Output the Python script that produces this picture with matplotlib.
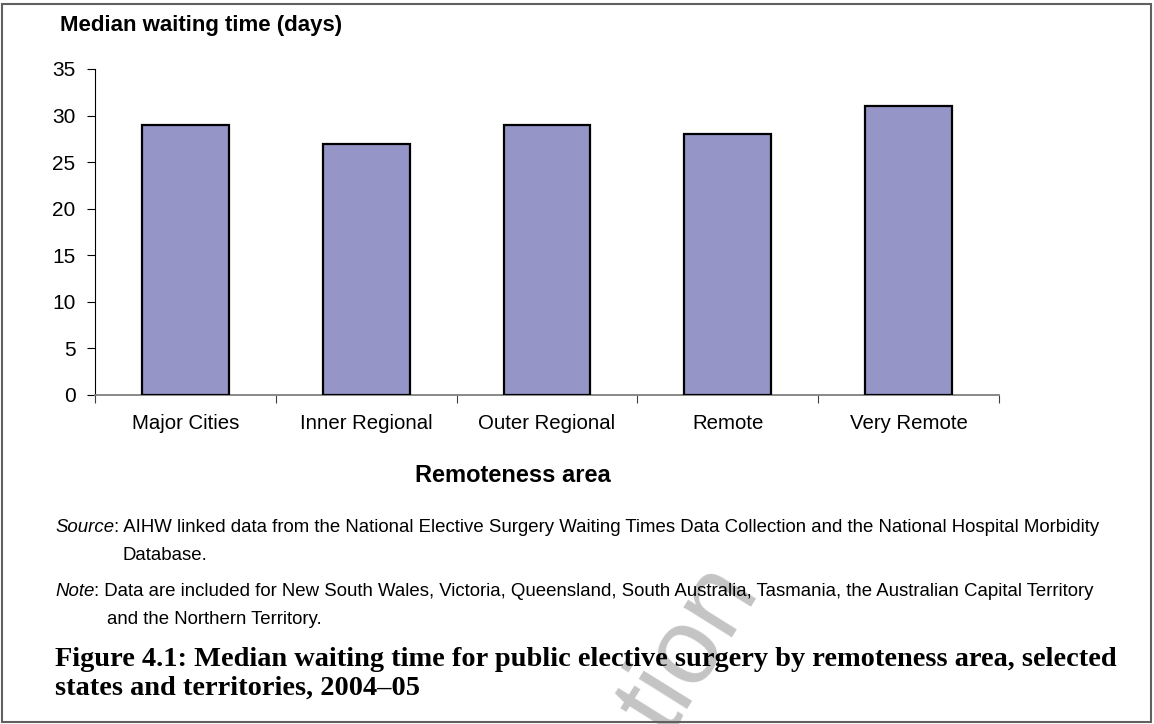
import matplotlib
matplotlib.use("Agg")
import matplotlib.pyplot as plt
from matplotlib.patches import Rectangle

# data
areas = ["Major Cities", "Inner Regional", "Outer Regional", "Remote", "Very Remote"]
median_days = [29, 27, 29, 28, 31]
yticks = [0, 5, 10, 15, 20, 25, 30, 35]

plt.rcParams["font.family"] = ["Liberation Sans", "DejaVu Sans"]

W, H = 1154, 724
fig = plt.figure(figsize=(W / 100, H / 100), dpi=100)
ax = fig.add_axes([95 / W, 1 - 395 / H, (999 - 95) / W, (395 - 69) / H])

centers = [i + 0.5 for i in range(len(areas))]
ax.bar(centers, median_days, width=0.48, color="#9595c8",
       edgecolor="black", linewidth=1.6, zorder=3)

ax.set_xlim(0, len(areas))
ax.set_ylim(0, 35)
ax.set_yticks(yticks)
ax.set_yticklabels([str(t) for t in yticks], fontsize=15)
ax.set_xticks(range(len(areas) + 1))
ax.set_xticklabels([])
ax.set_xticks(centers, minor=True)
ax.set_xticklabels(areas, minor=True, fontsize=14.7)
ax.tick_params(axis="x", which="minor", length=0, pad=14)
ax.tick_params(axis="x", which="major", length=6, color="#404040")
ax.tick_params(axis="y", length=6, pad=8)
for s in ["top", "right"]:
    ax.spines[s].set_visible(False)
ax.spines["left"].set_color("black")
ax.spines["bottom"].set_color("#808080")
ax.spines["bottom"].set_linewidth(1.3)

def px(x, y):
    return x / W, 1 - y / H

fig.text(*px(60, 25), "Median waiting time (days)", fontsize=16,
         fontweight="bold", va="center", ha="left")
fig.text(*px(513, 475), "Remoteness area", fontsize=17,
         fontweight="bold", va="center", ha="center")

fs = 13.4
renderer = fig.canvas.get_renderer()

def note_line(x, y, label, rest):
    t = fig.text(*px(x, y), label, fontsize=fs, style="italic", va="center")
    w = t.get_window_extent(renderer).width
    fig.text(*px(x + w, y), rest, fontsize=fs, va="center")

note_line(55, 528, "Source",
          ": AIHW linked data from the National Elective Surgery Waiting Times Data Collection and the National Hospital Morbidity")
fig.text(*px(123, 555), "Database.", fontsize=fs, va="center")
note_line(55, 592, "Note",
          ": Data are included for New South Wales, Victoria, Queensland, South Australia, Tasmania, the Australian Capital Territory")
fig.text(*px(107, 620), "and the Northern Territory.", fontsize=fs, va="center")

# faint watermark fragment, cut by the bottom edge as in the reference
fig.text(*px(690, 650), "tion", fontsize=78, color="#c4c4c4", rotation=58,
         ha="center", va="center", zorder=-1)

cap = dict(fontsize=20.4, fontweight="bold", family=["Liberation Serif", "DejaVu Serif"], va="center")
fig.text(*px(55, 660),
         "Figure 4.1: Median waiting time for public elective surgery by remoteness area, selected", **cap)
fig.text(*px(55, 688), "states and territories, 2004\u201305", **cap)

fig.patches.append(Rectangle((2 / W, 2 / H), (1151 - 2) / W, (720 - 2) / H,
                             transform=fig.transFigure, fill=False,
                             edgecolor="#606060", linewidth=1.5))

fig.savefig("out.png", dpi=100)
